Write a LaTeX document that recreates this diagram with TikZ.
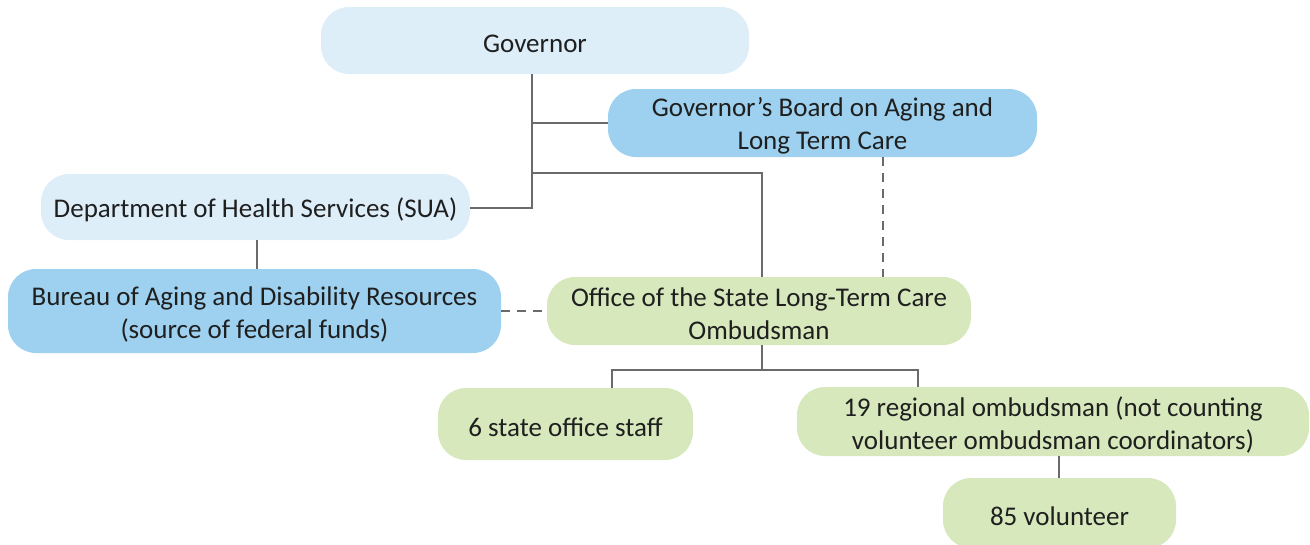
\documentclass[tikz,border=0pt]{standalone}
\usepackage{fontspec}
\setmainfont{Carlito}
\definecolor{lblue}{HTML}{DDEEF9}
\definecolor{mblue}{HTML}{9DD1EF}
\definecolor{lgreen}{HTML}{D6E8BC}
\definecolor{lgray}{HTML}{6A6A6C}
\begin{document}
\begin{tikzpicture}[x=1pt,y=-1pt,
  box/.style={rounded corners=28pt,inner sep=0pt},
  txt/.style={align=center,inner sep=0pt,yshift=-3pt,font=\fontsize{27}{33}\selectfont,text=black!88},
  conn/.style={draw=lgray,line width=2.6pt},
  dconn/.style={draw=lgray,line width=2.6pt,dash pattern=on 9pt off 7pt}]
\useasboundingbox (0,0) rectangle (1310,544);
\node[box,fill=lblue,minimum width=428pt,minimum height=67pt,label={[txt]center:Governor}] (gov) at (535,40.5) {};
\node[box,fill=mblue,minimum width=429pt,minimum height=68pt,label={[txt]center:{Governor’s Board on Aging and\\Long Term Care}}] (board) at (822.5,123) {};
\node[box,fill=lblue,minimum width=429pt,minimum height=66pt,label={[txt]center:{Department of Health Services (SUA)}}] (dhs) at (255.5,207) {};
\node[box,fill=mblue,minimum width=493pt,minimum height=84pt,label={[txt]center:{Bureau of Aging and Disability Resources\\(source of federal funds)}}] (bur) at (254.5,311) {};
\node[box,fill=lgreen,minimum width=424pt,minimum height=68pt,label={[txt]center:{Office of the State Long-Term Care\\Ombudsman}}] (off) at (759,311) {};
\node[box,fill=lgreen,minimum width=255pt,minimum height=72pt,label={[txt]center:{6 state office staff}}] (staff) at (565.5,424) {};
\node[box,fill=lgreen,minimum width=512pt,minimum height=69pt,label={[txt]center:{19 regional ombudsman (not counting\\volunteer ombudsman coordinators)}}] (reg) at (1053,421.5) {};
\node[box,fill=lgreen,minimum width=233pt,minimum height=70pt,label={[txt]center:{85 volunteer}}] (vol) at (1059.5,513) {};
\coordinate (trunk) at (532,208);
\coordinate (split) at (762,370);
\draw[conn] (gov.south -| trunk) -- (trunk) -- (dhs.east |- trunk);
\draw[conn] (trunk |- board.west) -- (board.west);
\draw[conn] (532,173) -| (off.north -| split);
\draw[conn] (dhs.south -| 257,0) -- (bur.north -| 257,0);
\draw[dconn] (bur.east) -- (off.west);
\draw[dconn] (board.south -| 883,0) -- (off.north -| 883,0);
\draw[conn] (off.south -| split) -- (split);
\draw[conn] (staff.north -| 612,0) -- (612,370) -- (918,370) -- (reg.north -| 918,0);
\draw[conn] (reg.south -| 1059,0) -- (vol.north -| 1059,0);
\end{tikzpicture}
\end{document}
